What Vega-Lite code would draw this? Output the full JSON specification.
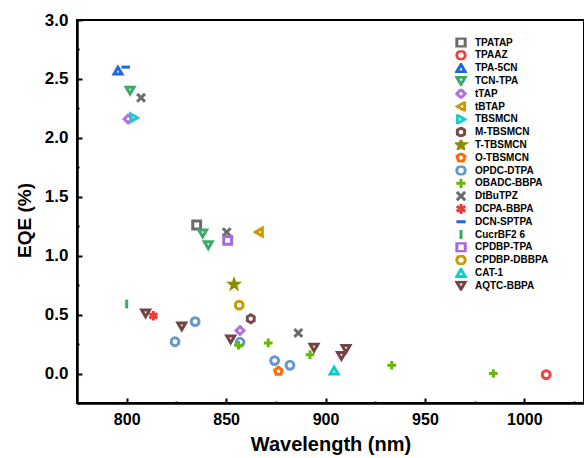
{
  "$schema": "https://vega.github.io/schema/vega-lite/v6.json",
  "width": 507,
  "height": 383,
  "autosize": {"type": "none"},
  "padding": {"left": 77, "top": 20, "right": 0, "bottom": 55},
  "background": "white",
  "config": {
    "view": {"stroke": "black", "strokeWidth": 2},
    "font": "Liberation Sans"
  },
  "data": {
    "values": [
      {"series": "TPATAP", "wavelength": 835.2, "eqe": 1.26},
      {"series": "TPAAZ", "wavelength": 1011, "eqe": -0.01},
      {"series": "TPA-5CN", "wavelength": 795.6, "eqe": 2.57},
      {"series": "TCN-TPA", "wavelength": 801.7, "eqe": 2.4},
      {"series": "TCN-TPA", "wavelength": 838.2, "eqe": 1.19},
      {"series": "TCN-TPA", "wavelength": 841, "eqe": 1.09},
      {"series": "tTAP", "wavelength": 800.7, "eqe": 2.16},
      {"series": "tTAP", "wavelength": 857, "eqe": 0.365},
      {"series": "tBTAP", "wavelength": 866.5, "eqe": 1.2},
      {"series": "TBSMCN", "wavelength": 803.7, "eqe": 2.17},
      {"series": "M-TBSMCN", "wavelength": 862.4, "eqe": 0.465},
      {"series": "T-TBSMCN", "wavelength": 854, "eqe": 0.756},
      {"series": "O-TBSMCN", "wavelength": 876.3, "eqe": 0.02},
      {"series": "OPDC-DTPA", "wavelength": 834.4, "eqe": 0.44},
      {"series": "OPDC-DTPA", "wavelength": 824.3, "eqe": 0.27},
      {"series": "OPDC-DTPA", "wavelength": 857, "eqe": 0.265},
      {"series": "OPDC-DTPA", "wavelength": 874.4, "eqe": 0.11},
      {"series": "OPDC-DTPA", "wavelength": 882.1, "eqe": 0.07},
      {"series": "OBADC-BBPA", "wavelength": 856.2, "eqe": 0.24},
      {"series": "OBADC-BBPA", "wavelength": 871.2, "eqe": 0.26},
      {"series": "OBADC-BBPA", "wavelength": 892.2, "eqe": 0.16},
      {"series": "OBADC-BBPA", "wavelength": 933.3, "eqe": 0.07},
      {"series": "OBADC-BBPA", "wavelength": 984.4, "eqe": 0.0},
      {"series": "DtBuTPZ", "wavelength": 807.2, "eqe": 2.34},
      {"series": "DtBuTPZ", "wavelength": 850.3, "eqe": 1.2},
      {"series": "DtBuTPZ", "wavelength": 886.3, "eqe": 0.345},
      {"series": "DCPA-BBPA", "wavelength": 813.4, "eqe": 0.49},
      {"series": "DCN-SPTPA", "wavelength": 799.5, "eqe": 2.6},
      {"series": "CucrBF2 6", "wavelength": 800, "eqe": 0.59},
      {"series": "CPDBP-TPA", "wavelength": 850.8, "eqe": 1.13},
      {"series": "CPDBP-DBBPA", "wavelength": 856.6, "eqe": 0.58},
      {"series": "CAT-1", "wavelength": 904.3, "eqe": 0.025},
      {"series": "AQTC-BBPA", "wavelength": 809.5, "eqe": 0.51},
      {"series": "AQTC-BBPA", "wavelength": 827.7, "eqe": 0.4},
      {"series": "AQTC-BBPA", "wavelength": 852.3, "eqe": 0.29},
      {"series": "AQTC-BBPA", "wavelength": 894.2, "eqe": 0.22},
      {"series": "AQTC-BBPA", "wavelength": 908, "eqe": 0.15},
      {"series": "AQTC-BBPA", "wavelength": 910.3, "eqe": 0.21}
    ]
  },
  "resolve": {"axis": {"x": "independent", "y": "independent"}},
  "layer": [
    {
      "mark": {"type": "rule", "opacity": 0},
      "encoding": {
        "x": {
          "field": "wavelength", "type": "quantitative",
          "scale": {"domain": [775, 1030], "nice": false, "zero": false},
          "axis": {
            "orient": "bottom", "values": [825, 875, 925, 975, 1025],
            "labels": false, "domain": false, "grid": false,
            "tickSize": -2, "tickWidth": 2, "tickColor": "black", "title": null
          }
        },
        "y": {
          "field": "eqe", "type": "quantitative",
          "scale": {"domain": [-0.25, 3.0], "nice": false, "zero": false},
          "axis": {
            "orient": "left", "values": [-0.25, 0.25, 0.75, 1.25, 1.75, 2.25, 2.75],
            "labels": false, "domain": false, "grid": false,
            "tickSize": -2, "tickWidth": 2, "tickColor": "black", "title": null
          }
        }
      }
    },
    {
      "mark": {"type": "point", "size": 62, "strokeWidth": 3, "opacity": 1},
      "encoding": {
        "x": {
          "field": "wavelength", "type": "quantitative",
          "scale": {"domain": [775, 1030], "nice": false, "zero": false},
          "axis": {
            "orient": "bottom", "values": [800, 850, 900, 950, 1000], "format": "d",
            "grid": false, "domainColor": "black", "domainWidth": 2.5,
            "tickSize": -5, "tickWidth": 2, "tickColor": "black",
            "labelFont": "Liberation Sans", "labelFontWeight": "bold", "labelFontSize": 16,
            "labelColor": "black", "labelPadding": 13,
            "title": "Wavelength (nm)", "titleFont": "Liberation Sans",
            "titleFontSize": 20, "titleFontWeight": "bold", "titleColor": "black", "titlePadding": 7
          }
        },
        "y": {
          "field": "eqe", "type": "quantitative",
          "scale": {"domain": [-0.25, 3.0], "nice": false, "zero": false},
          "axis": {
            "orient": "left", "values": [0, 0.5, 1, 1.5, 2, 2.5, 3],
            "format": ".1f",
            "grid": false, "domainColor": "black", "domainWidth": 2.5,
            "tickSize": -5, "tickWidth": 2, "tickColor": "black",
            "labelFont": "Liberation Sans", "labelFontWeight": "bold", "labelFontSize": 17,
            "labelColor": "black", "labelPadding": 14,
            "title": "EQE (%)", "titleFont": "Liberation Sans",
            "titleFontSize": 19, "titleFontWeight": "bold", "titleColor": "black", "titlePadding": 10,
            "titleY": 200
          }
        },
        "stroke": {
          "field": "series", "type": "nominal",
          "scale": {
            "domain": ["TPATAP", "TPAAZ", "TPA-5CN", "TCN-TPA", "tTAP", "tBTAP", "TBSMCN", "M-TBSMCN", "T-TBSMCN", "O-TBSMCN", "OPDC-DTPA", "OBADC-BBPA", "DtBuTPZ", "DCPA-BBPA", "DCN-SPTPA", "CucrBF2 6", "CPDBP-TPA", "CPDBP-DBBPA", "CAT-1", "AQTC-BBPA"],
            "range": ["#6b6b6b", "#f04040", "#1f66e0", "#3aaa66", "#b070e0", "#cc9a00", "#1ccccc", "#7a4a4a", "#8c8c00", "#ff6a00", "#6699cc", "#66b800", "#6b6b6b", "#f03a3a", "#1f66e0", "#33aa66", "#aa66dd", "#cc9a00", "#11cccc", "#744444"]
          },
          "legend": {
            "orient": "none", "legendX": 378, "legendY": 17.5, "title": null,
            "labelFont": "Liberation Sans", "labelFontWeight": "bold", "labelFontSize": 10,
            "labelColor": "black", "symbolSize": 70, "symbolStrokeWidth": 3,
            "clipHeight": 10, "rowPadding": 2.8, "labelOffset": 8
          }
        },
        "fill": {
          "field": "series", "type": "nominal",
          "scale": {
            "domain": ["TPATAP", "TPAAZ", "TPA-5CN", "TCN-TPA", "tTAP", "tBTAP", "TBSMCN", "M-TBSMCN", "T-TBSMCN", "O-TBSMCN", "OPDC-DTPA", "OBADC-BBPA", "DtBuTPZ", "DCPA-BBPA", "DCN-SPTPA", "CucrBF2 6", "CPDBP-TPA", "CPDBP-DBBPA", "CAT-1", "AQTC-BBPA"],
            "range": ["transparent", "transparent", "transparent", "transparent", "transparent", "transparent", "transparent", "transparent", "#8c8c00", "transparent", "transparent", "transparent", "transparent", "transparent", "transparent", "transparent", "transparent", "transparent", "transparent", "transparent"]
          },
          "legend": {
            "orient": "none", "legendX": 378, "legendY": 17.5, "title": null,
            "labelFont": "Liberation Sans", "labelFontWeight": "bold", "labelFontSize": 10,
            "labelColor": "black", "symbolSize": 70, "symbolStrokeWidth": 3,
            "clipHeight": 10, "rowPadding": 2.8, "labelOffset": 8
          }
        },
        "shape": {
          "field": "series", "type": "nominal",
          "scale": {
            "domain": ["TPATAP", "TPAAZ", "TPA-5CN", "TCN-TPA", "tTAP", "tBTAP", "TBSMCN", "M-TBSMCN", "T-TBSMCN", "O-TBSMCN", "OPDC-DTPA", "OBADC-BBPA", "DtBuTPZ", "DCPA-BBPA", "DCN-SPTPA", "CucrBF2 6", "CPDBP-TPA", "CPDBP-DBBPA", "CAT-1", "AQTC-BBPA"],
            "range": ["square", "circle", "triangle-up", "triangle-down", "diamond", "triangle-left", "triangle-right", "M0,-1L0.866,-0.5L0.866,0.5L0,1L-0.866,0.5L-0.866,-0.5Z", "M0,-1L0.235,-0.324L0.951,-0.309L0.38,0.124L0.588,0.809L0,0.4L-0.588,0.809L-0.38,0.124L-0.951,-0.309L-0.235,-0.324Z", "M0,-1L0.951,-0.309L0.588,0.809L-0.588,0.809L-0.951,-0.309Z", "circle", "M-1.1,0L1.1,0M0,-1.1L0,1.1", "M-1,-1L1,1M-1,1L1,-1", "M0,-1.2L0,1.2M-1.04,-0.6L1.04,0.6M-1.04,0.6L1.04,-0.6", "M-1.1,0L1.1,0", "M0,-1.1L0,1.1", "square", "circle", "triangle-up", "triangle-down"]
          },
          "legend": {
            "orient": "none", "legendX": 378, "legendY": 17.5, "title": null,
            "labelFont": "Liberation Sans", "labelFontWeight": "bold", "labelFontSize": 10,
            "labelColor": "black", "symbolSize": 70, "symbolStrokeWidth": 3,
            "clipHeight": 10, "rowPadding": 2.8, "labelOffset": 8
          }
        }
      }
    }
  ]
}
